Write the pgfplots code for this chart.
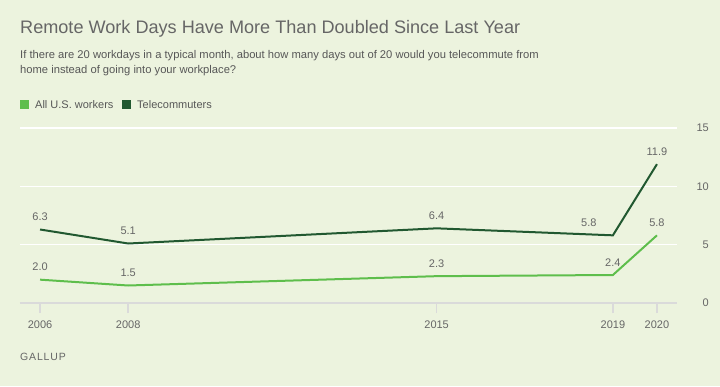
\documentclass[border=0pt]{standalone}
\usepackage{fontspec}
\setmainfont{Liberation Sans}
\usepackage{pgfplots}
\pgfplotsset{compat=1.18}
\definecolor{bg}{RGB}{236,243,222}
\definecolor{lightg}{RGB}{94,190,76}
\definecolor{darkg}{RGB}{33,88,48}
\definecolor{txt}{RGB}{102,102,102}
\definecolor{axgray}{RGB}{218,218,218}
\begin{document}
\begin{tikzpicture}[x=1pt,y=1pt]
\fill[bg] (0,0) rectangle (720,386);
\useasboundingbox (0,0) rectangle (720,386);
\node[anchor=base west, inner sep=0, text=txt, font=\fontsize{18.1}{22}\selectfont] at (20,352) {Remote Work Days Have More Than Doubled Since Last Year};
\node[anchor=base west, inner sep=0, text=txt!85!black, font=\fontsize{11.2}{13}\selectfont] at (20,327) {If there are 20 workdays in a typical month, about how many days out of 20 would you telecommute from};
\node[anchor=base west, inner sep=0, text=txt!85!black, font=\fontsize{11.2}{13}\selectfont] at (20,312) {home instead of going into your workplace?};
\fill[lightg] (20,277) rectangle (29,286);
\node[anchor=base west, inner sep=0, text=txt!85!black, font=\fontsize{11}{13}\selectfont] at (35,277.5) {All U.S. workers};
\fill[darkg] (122,277) rectangle (131,286);
\node[anchor=base west, inner sep=0, text=txt!85!black, font=\fontsize{11}{13}\selectfont] at (137,277.5) {Telecommuters};
\node[anchor=base west, inner sep=0, text=txt, font=\fontsize{10.5}{12}\selectfont\addfontfeature{LetterSpace=8}] at (20,26) {GALLUP};
\begin{axis}[
  at={(20pt,83pt)}, anchor=south west,
  scale only axis, width=657pt, height=175pt,
  xmin=2005.545, xmax=2020.455, ymin=0, ymax=15,
  axis x line*=bottom, axis y line*=right,
  x axis line style={draw=axgray, line width=2pt},
  y axis line style={draw=none},
  xtick={2006,2008,2015,2019,2020},
  xticklabels={2006,2008,2015,2019,2020},
  ytick={0,5,10,15},
  tick align=outside,
  major tick length=10pt,
  xtick style={draw=axgray, line width=1.5pt},
  ytick style={draw=none},
  ymajorgrids, grid style={white, line width=1.5pt},
  /pgf/number format/assume math mode=true,
  ticklabel style={font=\fontsize{11}{13}\selectfont, text=txt},
  xticklabel style={yshift=-4pt},
  yticklabel style={anchor=east, xshift=22pt, inner sep=0pt},
  every node near coord/.append style={font=\fontsize{11}{13}\selectfont, text=txt, anchor=base, yshift=9pt, inner sep=0pt},
  lbl/.style={nodes near coords={\pgfmathprintnumber[fixed,fixed zerofill,precision=1]{\pgfplotspointmeta}}},
]
\addplot[lightg, line width=2pt, mark=none, lbl] coordinates {(2006,2.0) (2008,1.5) (2015,2.3) (2019,2.4) (2020,5.8)};
\addplot[darkg, line width=2pt, mark=none] coordinates {(2006,6.3) (2008,5.1) (2015,6.4) (2019,5.8) (2020,11.9)};
\addplot[draw=none, mark=none, forget plot, lbl] coordinates {(2006,6.3) (2008,5.1) (2015,6.4) (2020,11.9)};
\addplot[draw=none, mark=none, forget plot, lbl, every node near coord/.append style={xshift=-24pt}] coordinates {(2019,5.8)};
\end{axis}
\end{tikzpicture}
\end{document}
